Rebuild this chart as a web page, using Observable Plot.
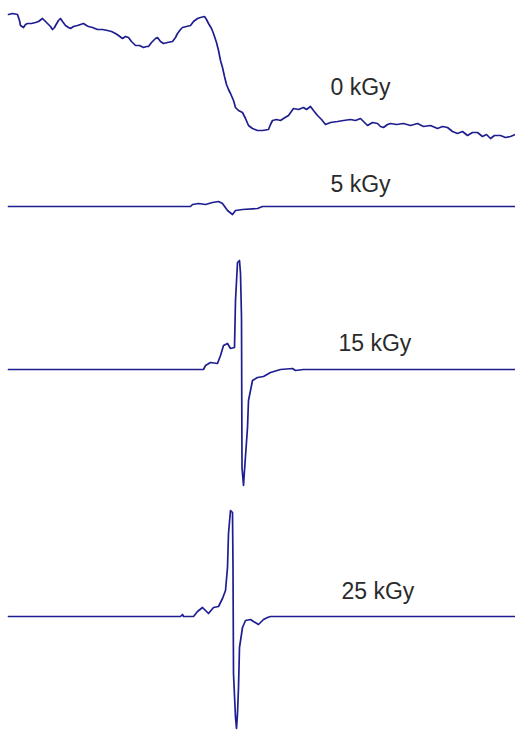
<!DOCTYPE html>
<html><head><meta charset="utf-8">
<script src="https://cdn.jsdelivr.net/npm/d3@7"></script>
<script src="https://cdn.jsdelivr.net/npm/@observablehq/plot@0.6"></script>
<style>body{margin:0;background:#fff}</style>
</head><body><div id="chart"></div>
<script>
// EPR spectra (field position, amplitude relative to baseline; arbitrary units)
const doses = ["0 kGy", "5 kGy", "15 kGy", "25 kGy"];
const offsets = [600, 524, 361, 114];      // vertical stacking offset of each spectrum
const labelField = [330, 330, 338, 341];   // label field position
const labelAmp = [43, 22, 26, 25];         // label height above baseline

const spec0 = [[8,116],[12,117],[17,116],[19,110],[20,105],[23,103],[25,106],[27,107],[31,107],[35,108],[38,109],[42,112],[44,110],[47,107],[50,104],[52,101],[54,103],[55,105],[58,110],[60,112],[62,109],[65,105],[68,103],[70,102],[73,104],[77,105],[80,106],[83,107],[86,105],[88,104],[92,103],[97,101],[102,101],[107,100],[111,99],[115,97],[118,95],[122,92],[125,94],[128,93],[131,89],[135,85],[139,85],[143,83],[146,84],[148,84],[151,88],[153,90],[155,92],[157,93],[160,89],[163,87],[167,88],[172,89],[175,93],[177,97],[180,101],[182,103],[186,104],[190,105],[193,109],[197,112],[200,113],[204,114],[206,111],[208,107],[211,102],[213,97],[216,88],[218,80],[220,70],[222,63],[224,54],[226,46],[228,41],[230,37],[233,30],[235,23],[238,20],[242,18],[245,12],[248,5],[252,2],[257,0],[262,0],[268,1],[270,6],[272,10],[276,11],[280,10],[283,12],[288,15],[293,22],[298,21],[303,23],[306,21],[310,24],[313,20],[317,15],[321,11],[325,6],[330,8],[337,9],[343,10],[350,11],[355,10],[360,12],[364,8],[367,5],[372,8],[377,7],[380,4],[383,3],[387,6],[390,7],[396,6],[403,7],[410,5],[417,7],[423,4],[430,5],[437,2],[442,4],[447,3],[452,-1],[457,-3],[462,-1],[467,-5],[472,-2],[477,-2],[482,-6],[486,-4],[490,-8],[494,-5],[500,-5],[505,-7],[510,-6],[515,-4]];
const spec5 = [[8,0],[190,0],[192,2],[198,3],[205,2],[212,4],[218,5],[222,3],[227,-4],[232,-8],[235,-4],[242,-3],[257,-2],[262,0],[515,0]];
const spec15 = [[8,0],[203,0],[205,4],[210,7],[217,6],[220,14],[223,24],[227,26],[230,21],[234,22],[235,69],[237,107],[239,109],[240,96],[241,52],[241.5,-98],[243,-116],[244,-101],[247,-58],[248,-31],[252,-11],[257,-8],[263,-7],[270,-3],[280,0],[292,1],[295,-1],[303,0],[515,0]];
const spec25 = [[8,0],[180,0],[182,2],[183,0],[193,0],[197,5],[202,9],[205,6],[208,3],[213,9],[218,10],[222,18],[225,26],[227,49],[228,83],[230,106],[232,104],[232.5,49],[233,-57],[235,-101],[236,-112],[237,-97],[238,-71],[239,-31],[242,-11],[245,-4],[250,-3],[253,-5],[258,-8],[263,-3],[267,-1],[270,0],[515,0]];

const spectra = [spec0, spec5, spec15, spec25];
const rows = spectra.flatMap((s, i) => s.map(([f, a]) => ({dose: doses[i], field: f, value: a + offsets[i]})));
const labels = doses.map((d, i) => ({dose: d, field: labelField[i], value: labelAmp[i] + offsets[i]}));

const chart = Plot.plot({
  width: 515, height: 730,
  margin: 0,
  x: {domain: [0, 515], axis: null},
  y: {domain: [0, 730], axis: null},
  style: {background: "#fff"},
  marks: [
    Plot.line(rows, {x: "field", y: "value", z: "dose", stroke: "#1e1e90", strokeWidth: 1.7, curve: "linear"}),
    Plot.text(labels, {x: "field", y: "value", text: "dose", textAnchor: "start", lineAnchor: "middle",
      fontSize: 23, fill: "#2a2a2a", fontFamily: "Liberation Sans, Arial, sans-serif"})
  ]
});
document.getElementById("chart").appendChild(chart);
</script>
</body></html>
